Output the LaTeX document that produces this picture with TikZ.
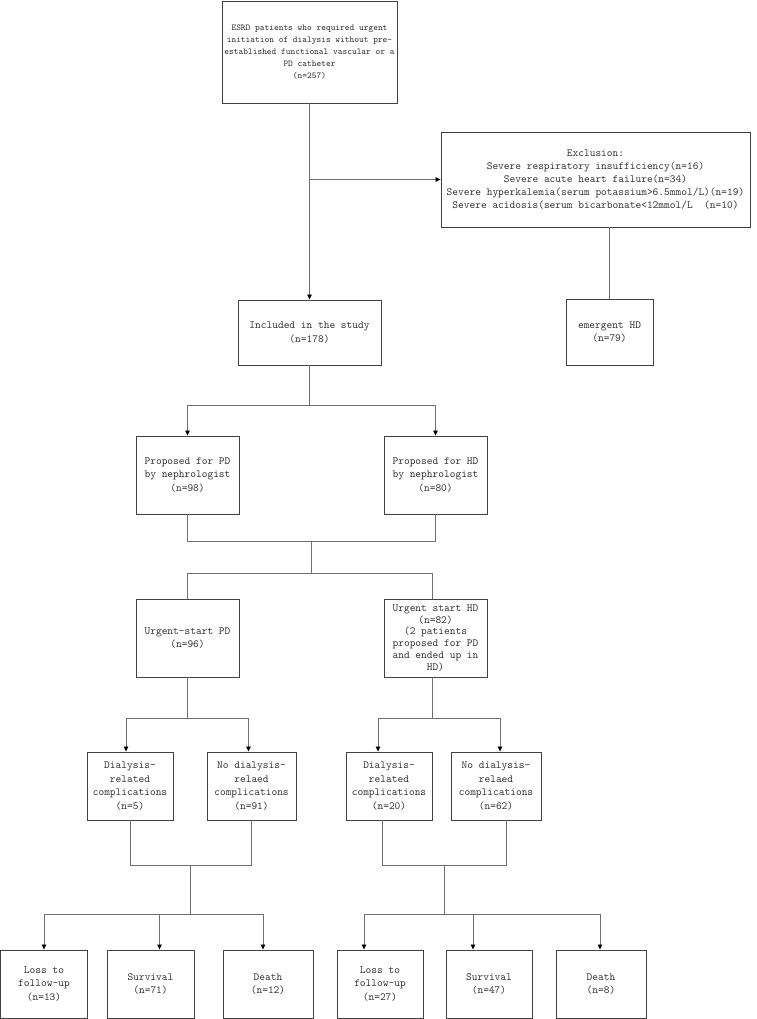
\documentclass[tikz,border=0pt]{standalone}
\usepackage{fontspec}
\usepackage{tikz}
\usetikzlibrary{arrows.meta, positioning, calc}
\newcommand{\flowfont}{\ttfamily}
\definecolor{boxgray}{RGB}{65,65,65}
\definecolor{linegray}{RGB}{110,110,110}
\definecolor{textgray}{RGB}{50,50,50}

\begin{document}
\begin{tikzpicture}[
    x=1pt, y=-1pt,
    >={Triangle[length=5pt, width=4.5pt, color=black]},
    box/.style 2 args={rectangle, draw=boxgray, line width=0.9pt,
                  minimum width=#1pt, minimum height=#2pt, inner sep=1pt, align=center,
                  text=textgray, font=\flowfont\fontsize{10.9}{13.5}\selectfont},
    link/.style={draw=linegray, line width=0.85pt},
    arr/.style={link, ->},
]
    \useasboundingbox (0,0) rectangle (756,1019);

    % Screening
    \node[box={175}{102}, font=\flowfont\fontsize{9.0}{12}\selectfont] (esrd) at (309.5,52)
        {ESRD patients who required urgent\\initiation of dialysis without pre-\\established functional vascular or a\\PD catheter\\(n=257)};
    \node[box={309}{95}, font=\flowfont\fontsize{10.9}{13}\selectfont] (excl) at (595.5,179.5)
        {Exclusion:\\Severe respiratory insufficiency(n=16)\\Severe acute heart failure(n=34)\\Severe hyperkalemia(serum potassium>6.5mmol/L)(n=19)\\Severe acidosis(serum bicarbonate<12mmol/L\ \ (n=10)};
    \node[box={143}{65}] (incl) at (309.5,332.5) {Included in the study\\(n=178)};
    \node[box={87}{66}]  (emhd) at (609.5,332)   {emergent HD\\(n=79)};

    % Proposal and start
    \node[box={103}{78}] (ppd) at (187.5,475) {Proposed for PD\\by nephrologist\\(n=98)};
    \node[box={103}{78}] (phd) at (435.5,475) {Proposed for HD\\by nephrologist\\(n=80)};
    \node[box={103}{78}] (upd) at (187.5,638) {Urgent-start PD\\(n=96)};
    \node[box={103}{78}, font=\flowfont\fontsize{10.9}{11.8}\selectfont] (uhd) at (435.5,638)
        {Urgent start HD\\(n=82)\\(2 patients\\proposed for PD\\and ended up in\\HD)};

    % Complications
    \node[box={86}{68}] (dpd) at (130,786)   {Dialysis-\\related\\complications\\(n=5)};
    \node[box={89}{68}] (npd) at (251.5,786) {No dialysis-\\relaed\\complications\\(n=91)};
    \node[box={86}{68}] (dhd) at (389,786)   {Dialysis-\\related\\complications\\(n=20)};
    \node[box={90}{68}] (nhd) at (496,786)   {No dialysis-\\relaed\\complications\\(n=62)};

    % Outcomes
    \node[box={87}{68}] (lpd) at (44,984)    {Loss to\\follow-up\\(n=13)};
    \node[box={87}{68}] (spd) at (150.5,984) {Survival\\(n=71)};
    \node[box={90}{68}] (xpd) at (268,984)   {Death\\(n=12)};
    \node[box={86}{68}] (lhd) at (380,984)   {Loss to\\follow-up\\(n=27)};
    \node[box={86}{68}] (shd) at (489,984)   {Survival\\(n=47)};
    \node[box={90}{68}] (xhd) at (601,984)   {Death\\(n=8)};

    % Trunk and exclusion
    \draw[arr] (esrd) -- (incl);
    \draw[arr] (esrd.south |- excl.west) -- (excl.west);
    \draw[link] (emhd.north |- excl.south) -- (emhd);

    % Proposal split
    \coordinate (s1) at ($(incl.south)+(0,40)$);
    \draw[link] (incl) -- (s1);
    \draw[arr] (s1) -| (ppd);
    \draw[arr] (s1) -| (phd);

    % Join and start split
    \coordinate (j2) at ($(ppd.south)!0.5!(phd.south)+(0,27)$);
    \coordinate (s2) at ($(j2)+(0,32)$);
    \draw[link] (ppd) |- (j2) -| (phd);
    \draw[link] (j2) -- (s2);
    \draw[link] (s2) -| (upd);
    \draw[link] (s2) -| ([xshift=-3pt]uhd.north);

    % Complication splits
    \coordinate (s3) at ($(upd.south)+(0,41)$);
    \draw[link] (upd) -- (s3);
    \draw[arr] (s3) -| ([xshift=-4pt]dpd.north);
    \draw[arr] (s3) -| ([xshift=-3pt]npd.north);

    \coordinate (s4) at ($(uhd.south)+(-3,41)$);
    \draw[link] ([xshift=-3pt]uhd.south) -- (s4);
    \draw[arr] (s4) -| ([xshift=-11pt]dhd.north);
    \draw[arr] (s4) -| ([xshift=4pt]nhd.north);

    % Outcome splits
    \coordinate (j5) at ($(dpd.south)!0.5!(npd.south)+(0,45)$);
    \coordinate (s5) at ($(j5)+(0,49)$);
    \draw[link] (dpd) |- (j5) -| (npd);
    \draw[link] (j5) -- (s5);
    \draw[arr] (s5) -| (lpd);
    \draw[arr] (s5) -| ([xshift=9pt]spd.north);
    \draw[arr] (s5) -| ([xshift=-5pt]xpd.north);

    \coordinate (j6) at ($([xshift=-7pt]dhd.south)!0.5!([xshift=10pt]nhd.south)+(0,45)$);
    \coordinate (s6) at ($(j6)+(0,49)$);
    \draw[link] ([xshift=-7pt]dhd.south) |- (j6) -| ([xshift=10pt]nhd.south);
    \draw[link] (j6) -- (s6);
    \draw[arr] (s6) -| ([xshift=-16pt]lhd.north);
    \draw[arr] (s6) -| ([xshift=-16pt]shd.north);
    \draw[arr] (s6) -| ([xshift=-1pt]xhd.north);
\end{tikzpicture}
\end{document}
